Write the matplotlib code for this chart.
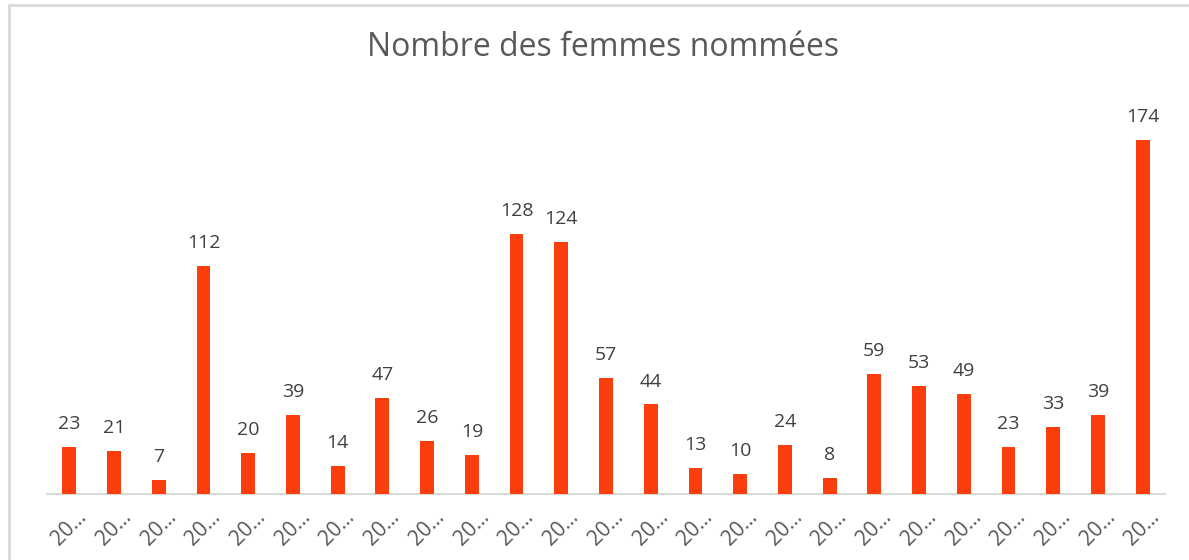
import matplotlib.pyplot as plt
from matplotlib.patches import Rectangle

# Values
values = [23, 21, 7, 112, 20, 39, 14, 47, 26, 19, 128, 124, 57, 44, 13, 10, 24, 8, 59, 53, 49, 23, 33, 39, 174]
tick_labels = ['20\u2026'] * len(values)
title = 'Nombre des femmes nommées'

barColor = '#FC3D0C'
textColor = '#404040'
tickColor = '#595959'

plt.rcParams['font.family'] = ['Open Sans', 'DejaVu Sans']

fig = plt.figure(figsize=(11.89, 5.60), dpi=100)
ax = fig.add_axes([47 / 1189, 66 / 560, 1118 / 1189, 407 / 560])

# Chart area border (runs off the right and bottom edges)
fig.patches.append(Rectangle((9 / 1189, -0.1), 1.2, 1.1 - 5 / 560, transform=fig.transFigure,
                             fill=False, edgecolor='#D9D9D9', linewidth=2))

x = range(len(values))
bars = ax.bar(x, values, width=0.31, color=barColor, zorder=3)

for xi, v in zip(x, values):
    ax.annotate(str(v), (xi, v), xytext=(0, 10), textcoords='offset points',
                ha='center', va='bottom', fontsize=14, color=textColor)

ax.set_xlim(-0.5, len(values) - 0.5)
ax.set_ylim(0, 200)
ax.set_xticks(list(x))
ax.set_xticklabels(tick_labels, rotation=45, ha='center', va='top', fontsize=15, color=tickColor)
ax.tick_params(axis='x', length=0, pad=9)
ax.set_yticks([])

for side in ['top', 'right', 'left']:
    ax.spines[side].set_visible(False)
ax.spines['bottom'].set_color('#D9D9D9')
ax.spines['bottom'].set_linewidth(1.5)

fig.text(603 / 1189, 1 - 48 / 560, title, ha='center', va='center', fontsize=23, color=tickColor)

fig.savefig('out.png', dpi=100, facecolor='white')
